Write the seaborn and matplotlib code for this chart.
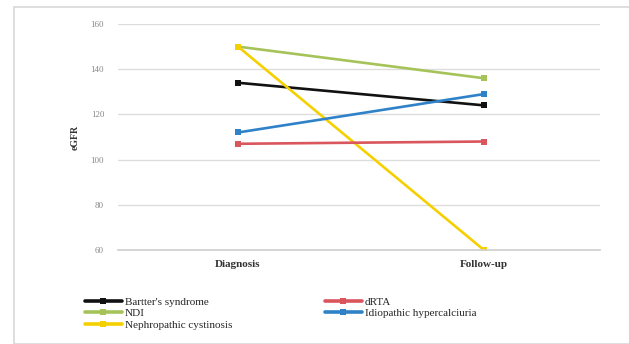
import matplotlib
matplotlib.use("Agg")
import matplotlib.pyplot as plt
import seaborn as sns
import pandas as pd
from matplotlib.patches import Rectangle

# data (eGFR)
timepoints = ["Diagnosis", "Follow-up"]
bartter = [134, 124]
drta = [107, 108]
ndi = [150, 136]
idiopathic = [112, 129]
cystinosis = [150, 60]

groups = {
    "Bartter's syndrome": bartter,
    "NDI": ndi,
    "Nephropathic cystinosis": cystinosis,
    "dRTA": drta,
    "Idiopathic hypercalciuria": idiopathic,
}
colors = {
    "Bartter's syndrome": "#111111",
    "NDI": "#a6c35a",
    "Nephropathic cystinosis": "#f5d000",
    "dRTA": "#d9565c",
    "Idiopathic hypercalciuria": "#2f82c8",
}

rows = []
for name, vals in groups.items():
    for i, v in enumerate(vals):
        rows.append({"group": name, "x": i, "eGFR": v})
df = pd.DataFrame(rows)

sns.set_theme(style="white")
plt.rcParams["font.family"] = ["Liberation Serif", "DejaVu Serif"]

fig = plt.figure(figsize=(6.29, 3.44), dpi=100)
fig.patches.append(Rectangle((14 / 629, 0.0), 1.0, 1 - 7 / 344, transform=fig.transFigure,
                             fill=False, edgecolor="#d8d8d8", linewidth=1.2))
ax = fig.add_axes([118 / 629, 1 - 250 / 344, 482 / 629, 226 / 344])

sns.lineplot(data=df, x="x", y="eGFR", hue="group", palette=colors,
             hue_order=list(groups.keys()), marker="s", markersize=4,
             markeredgewidth=0, linewidth=1.9, ax=ax)

ax.set_xlim(-0.488, 1.472)
ax.set_ylim(60, 160)
ax.set_yticks([60, 80, 100, 120, 140, 160])
ax.set_xticks([0, 1])
ax.set_xticklabels(timepoints, fontsize=8, fontweight="bold", color="#333333")
ax.tick_params(axis="y", labelsize=6.5, colors="#888888", length=0, pad=10)
ax.tick_params(axis="x", length=0, pad=7)
ax.yaxis.grid(True, color="#dddddd", linewidth=1)
ax.set_axisbelow(True)
for s in ["top", "right", "left"]:
    ax.spines[s].set_visible(False)
ax.spines["bottom"].set_color("#d0d0d0")
ax.set_xlabel("")
ax.set_ylabel("eGFR", fontsize=7, fontweight="bold", color="#333333", labelpad=8)

handles, labels = ax.get_legend_handles_labels()
for h in handles:
    h.set_linewidth(2.6)
ax.get_legend().remove() if ax.get_legend() else None
leg_kw = dict(loc="upper left", bbox_transform=fig.transFigure, frameon=False,
              fontsize=8, handlelength=3.3, handletextpad=0.3,
              labelspacing=0.15, borderaxespad=0, borderpad=0)
leg1 = fig.legend(handles[:3], labels[:3], bbox_to_anchor=(85 / 629, 1 - 297 / 344), **leg_kw)
fig.legend(handles[3:], labels[3:], bbox_to_anchor=(325 / 629, 1 - 297 / 344), **leg_kw)

fig.savefig("out.png", dpi=100)
